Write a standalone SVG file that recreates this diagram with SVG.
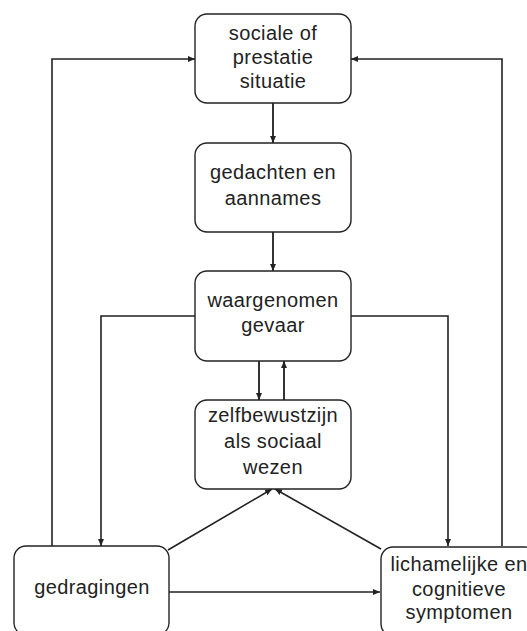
<svg xmlns="http://www.w3.org/2000/svg" width="527" height="631" viewBox="0 0 527 631">
<style>
.box{fill:#fff;stroke:#222;stroke-width:1.4}
.t{font-family:"Liberation Sans",Arial,sans-serif;font-size:20px;fill:#222;text-anchor:middle;letter-spacing:0.4px}
.c{fill:none;stroke:#222;stroke-width:1.6}
.c2{fill:none;stroke:#333;stroke-width:2}
</style>
<defs>
<marker id="ah" markerUnits="userSpaceOnUse" markerWidth="8" markerHeight="8" refX="7" refY="4" orient="auto">
<path d="M0,1 L7,4 L0,7 Z" fill="#222"/>
</marker>
</defs>
<g id="connectors">
<path class="c2" d="M273,103 V143" marker-end="url(#ah)"/>
<path class="c2" d="M273,232 V271" marker-end="url(#ah)"/>
<path class="c2" d="M259,361 V400" marker-end="url(#ah)"/>
<path class="c2" d="M284,400 V361" marker-end="url(#ah)"/>
<path class="c" d="M195,316 H101 V546" marker-end="url(#ah)"/>
<path class="c" d="M351,316 H448 V546" marker-end="url(#ah)"/>
<path class="c" d="M52,546 V59 H195" marker-end="url(#ah)"/>
<path class="c" d="M502,546 V59 H351" marker-end="url(#ah)"/>
<path class="c" d="M168,550 L272,489" marker-end="url(#ah)"/>
<path class="c" d="M381,549 L275,489" marker-end="url(#ah)"/>
<path class="c" d="M168,592 H380" marker-end="url(#ah)"/>
</g>
<g id="n1">
<rect class="box" x="195" y="14" width="156" height="89" rx="12"/>
<text class="t" x="273" y="40">sociale of</text>
<text class="t" x="273" y="64">prestatie</text>
<text class="t" x="273" y="88">situatie</text>
</g>
<g id="n2">
<rect class="box" x="195" y="143" width="156" height="89" rx="12"/>
<text class="t" x="273" y="179">gedachten en</text>
<text class="t" x="273" y="205">aannames</text>
</g>
<g id="n3">
<rect class="box" x="195" y="271" width="156" height="90" rx="12"/>
<text class="t" x="273" y="307">waargenomen</text>
<text class="t" x="273" y="332">gevaar</text>
</g>
<g id="n4">
<rect class="box" x="195" y="400" width="156" height="89" rx="12"/>
<text class="t" x="273" y="422">zelfbewustzijn</text>
<text class="t" x="273" y="448">als sociaal</text>
<text class="t" x="273" y="474">wezen</text>
</g>
<g id="n5">
<rect class="box" x="14" y="546" width="155" height="89" rx="12"/>
<text class="t" x="92" y="594">gedragingen</text>
</g>
<g id="n6">
<rect class="box" x="381" y="547" width="156" height="89" rx="12"/>
<text class="t" x="459" y="571">lichamelijke en</text>
<text class="t" x="459" y="596">cognitieve</text>
<text class="t" x="459" y="619">symptomen</text>
</g>
</svg>
